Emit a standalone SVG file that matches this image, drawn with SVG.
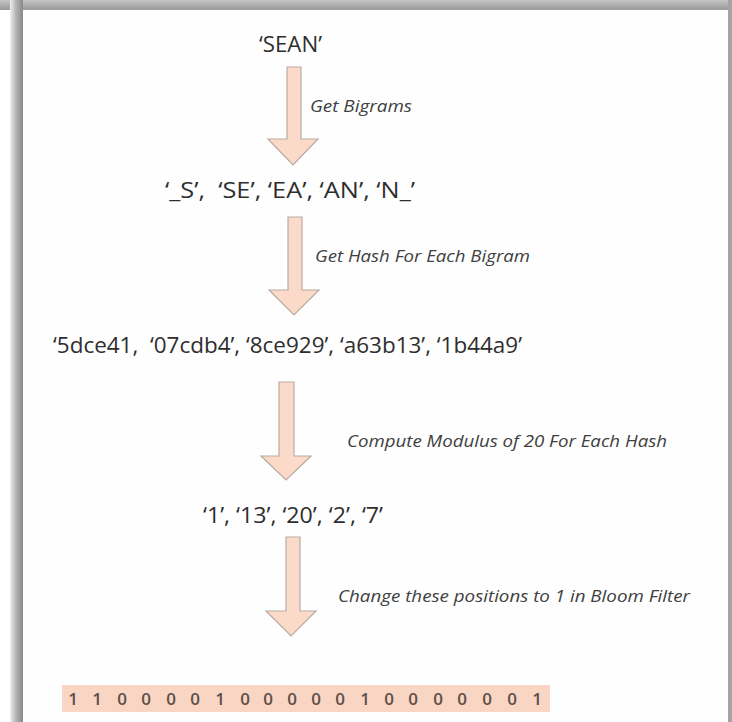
<svg xmlns="http://www.w3.org/2000/svg" width="732" height="722" viewBox="0 0 732 722">
  <defs>
    <linearGradient id="gTop" x1="0" y1="0" x2="0" y2="1">
      <stop offset="0" stop-color="#c4c4c4"/>
      <stop offset="1" stop-color="#9a9a9a"/>
    </linearGradient>
    <linearGradient id="gLeft" x1="0" y1="0" x2="1" y2="0">
      <stop offset="0" stop-color="#f0f0f0"/>
      <stop offset="0.45" stop-color="#b5b5b5"/>
      <stop offset="1" stop-color="#888888"/>
    </linearGradient>
    <style>
      .main { font-family: "Open Sans", "Liberation Sans", sans-serif; font-size: 22px; fill: #2e2e2e; }
      .lbl { font-family: "Open Sans", "Liberation Sans", sans-serif; font-size: 17px; font-style: italic; fill: #404040; }
      .bits { font-family: "Open Sans", "Liberation Sans", sans-serif; font-size: 17px; font-weight: 600; fill: #5f4e48; text-anchor: middle; }
      .arrow { fill: #fbdac9; stroke: #b9aaa2; stroke-width: 1.2; stroke-linejoin: miter; }
    </style>
  </defs>

  <!-- frame -->
  <rect x="0" y="0" width="732" height="722" fill="#ffffff"/>
  <rect x="0" y="0" width="732" height="10" fill="url(#gTop)"/>
  <rect x="10" y="0" width="13" height="722" fill="url(#gLeft)"/>
  <rect x="728" y="0" width="4" height="722" fill="#a3a3a3"/>
  <rect x="23" y="10" width="705" height="712" fill="#fefefe"/>

  <g id="sean">
    <text class="main" x="259" y="52" textLength="63" lengthAdjust="spacingAndGlyphs">‘SEAN’</text>
  </g>

  <g id="bigrams">
    <text class="main" x="165" y="198" textLength="250" lengthAdjust="spacingAndGlyphs" xml:space="preserve">‘_S’,  ‘SE’, ‘EA’, ‘AN’, ‘N_’</text>
  </g>

  <g id="hashes">
    <text class="main" x="53" y="353" textLength="469" lengthAdjust="spacingAndGlyphs" xml:space="preserve">‘5dce41,  ‘07cdb4’, ‘8ce929’, ‘a63b13’, ‘1b44a9’</text>
  </g>

  <g id="moduli">
    <text class="main" x="203" y="523" textLength="180" lengthAdjust="spacingAndGlyphs">‘1’, ‘13’, ‘20’, ‘2’, ‘7’</text>
  </g>

  <g id="bloom-filter">
    <rect x="62" y="685" width="488" height="27" fill="#f9d6c4"/>
    <text class="bits" y="705">
      <tspan x="73">1</tspan><tspan x="97">1</tspan><tspan x="122">0</tspan><tspan x="146">0</tspan><tspan x="171">0</tspan><tspan x="195">0</tspan><tspan x="220">1</tspan><tspan x="245">0</tspan><tspan x="268">0</tspan><tspan x="292">0</tspan><tspan x="316">0</tspan><tspan x="340">0</tspan><tspan x="365">1</tspan><tspan x="389">0</tspan><tspan x="413">0</tspan><tspan x="438">0</tspan><tspan x="462">0</tspan><tspan x="487">0</tspan><tspan x="512">0</tspan><tspan x="537">1</tspan>
    </text>
  </g>

  <g id="connectors">
    <path class="arrow" d="M287,67 H301 V139 H318 L293,165 L268,139 H287 Z"/>
    <text class="lbl" x="310" y="112" textLength="102" lengthAdjust="spacingAndGlyphs">Get Bigrams</text>

    <path class="arrow" d="M288,217 H302 V290 H319 L294,315 L269,290 H288 Z"/>
    <text class="lbl" x="315" y="262" textLength="215" lengthAdjust="spacingAndGlyphs">Get Hash For Each Bigram</text>

    <path class="arrow" d="M279,382 H294 V456 H311 L286,480 L261,456 H279 Z"/>
    <text class="lbl" x="347" y="447" textLength="320" lengthAdjust="spacingAndGlyphs">Compute Modulus of 20 For Each Hash</text>

    <path class="arrow" d="M286,537 H300 V611 H316 L291,636 L266,611 H286 Z"/>
    <text class="lbl" x="338" y="602" textLength="352" lengthAdjust="spacingAndGlyphs">Change these positions to 1 in Bloom Filter</text>
  </g>
</svg>
